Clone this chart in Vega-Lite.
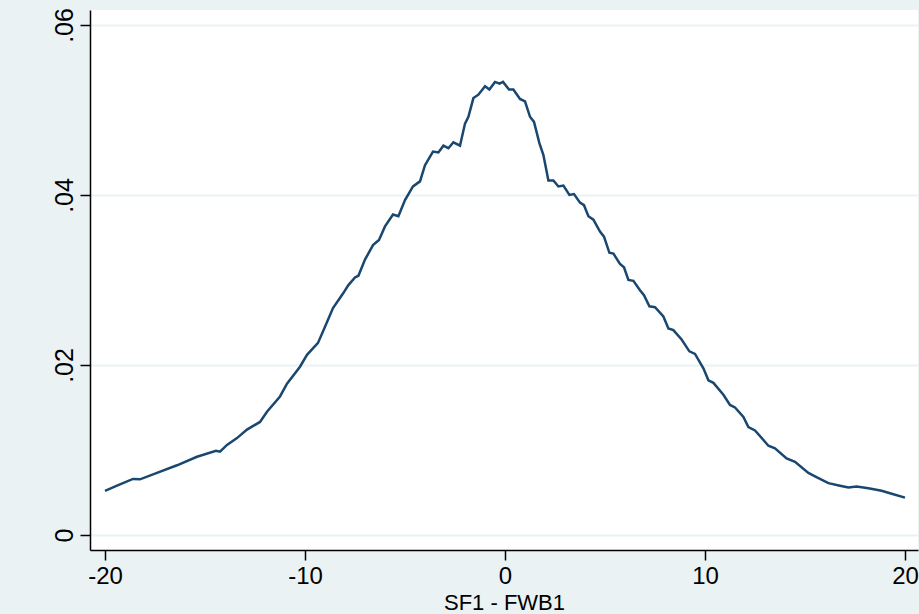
{
  "$schema": "https://vega.github.io/schema/vega-lite/v6.json",
  "width": 828,
  "height": 540,
  "autosize": {"type": "none"},
  "padding": {"left": 90, "top": 10, "right": 1, "bottom": 64},
  "background": "#EAF2F3",
  "config": {
    "view": {"fill": "#FFFFFF", "stroke": null},
    "axis": {"labelFont": "Liberation Sans", "titleFont": "Liberation Sans", "labelColor": "#000000", "titleColor": "#000000", "domainColor": "#000000", "tickColor": "#000000", "domainWidth": 1.5, "tickWidth": 1.5, "tickSize": 10}
  },
  "data": {"values": [
    {"x": -20.0, "y": 0.0052}, {"x": -19.4, "y": 0.0058}, {"x": -18.6, "y": 0.0066}, {"x": -18.25, "y": 0.00655},
    {"x": -17.4, "y": 0.0073}, {"x": -16.4, "y": 0.0082}, {"x": -15.4, "y": 0.0092}, {"x": -14.45, "y": 0.0099},
    {"x": -14.25, "y": 0.0098}, {"x": -13.9, "y": 0.0106}, {"x": -13.4, "y": 0.0114}, {"x": -12.9, "y": 0.0124},
    {"x": -12.25, "y": 0.0133}, {"x": -11.9, "y": 0.0145}, {"x": -11.25, "y": 0.0163}, {"x": -10.9, "y": 0.0178},
    {"x": -10.25, "y": 0.0198}, {"x": -9.9, "y": 0.0212}, {"x": -9.35, "y": 0.0226}, {"x": -9.0, "y": 0.0245},
    {"x": -8.6, "y": 0.0267}, {"x": -8.1, "y": 0.0284}, {"x": -7.83, "y": 0.0294}, {"x": -7.5, "y": 0.0303},
    {"x": -7.33, "y": 0.0305}, {"x": -7.0, "y": 0.0324}, {"x": -6.6, "y": 0.0341}, {"x": -6.3, "y": 0.0347},
    {"x": -6.0, "y": 0.0363}, {"x": -5.6, "y": 0.0377}, {"x": -5.33, "y": 0.0375}, {"x": -5.0, "y": 0.0394},
    {"x": -4.6, "y": 0.041}, {"x": -4.25, "y": 0.0416}, {"x": -4.0, "y": 0.0435}, {"x": -3.6, "y": 0.0451},
    {"x": -3.33, "y": 0.045}, {"x": -3.08, "y": 0.0458}, {"x": -2.83, "y": 0.0455}, {"x": -2.58, "y": 0.0462},
    {"x": -2.25, "y": 0.0458}, {"x": -2.0, "y": 0.0484}, {"x": -1.83, "y": 0.0492}, {"x": -1.58, "y": 0.0514},
    {"x": -1.33, "y": 0.0518}, {"x": -1.0, "y": 0.0528}, {"x": -0.78, "y": 0.0524}, {"x": -0.5, "y": 0.0533},
    {"x": -0.27, "y": 0.0531}, {"x": -0.1, "y": 0.0533}, {"x": 0.2, "y": 0.0524}, {"x": 0.42, "y": 0.0524},
    {"x": 0.75, "y": 0.0513}, {"x": 1.0, "y": 0.051}, {"x": 1.25, "y": 0.0492}, {"x": 1.45, "y": 0.0486},
    {"x": 1.72, "y": 0.0461}, {"x": 1.92, "y": 0.0447}, {"x": 2.17, "y": 0.0417}, {"x": 2.42, "y": 0.0417},
    {"x": 2.67, "y": 0.041}, {"x": 2.92, "y": 0.0411}, {"x": 3.22, "y": 0.04}, {"x": 3.45, "y": 0.0401},
    {"x": 3.75, "y": 0.0391}, {"x": 3.95, "y": 0.0388}, {"x": 4.17, "y": 0.0375}, {"x": 4.42, "y": 0.0371},
    {"x": 4.75, "y": 0.0357}, {"x": 4.95, "y": 0.0351}, {"x": 5.22, "y": 0.0332}, {"x": 5.42, "y": 0.0331},
    {"x": 5.75, "y": 0.0319}, {"x": 5.95, "y": 0.0315}, {"x": 6.17, "y": 0.03}, {"x": 6.42, "y": 0.0299},
    {"x": 6.75, "y": 0.0288}, {"x": 6.95, "y": 0.0282}, {"x": 7.22, "y": 0.0269}, {"x": 7.5, "y": 0.0268},
    {"x": 7.92, "y": 0.0257}, {"x": 8.17, "y": 0.0243}, {"x": 8.42, "y": 0.0241}, {"x": 8.83, "y": 0.023},
    {"x": 9.22, "y": 0.0216}, {"x": 9.5, "y": 0.0213}, {"x": 9.92, "y": 0.0196}, {"x": 10.17, "y": 0.0182},
    {"x": 10.42, "y": 0.0179}, {"x": 10.92, "y": 0.0165}, {"x": 11.25, "y": 0.0153}, {"x": 11.5, "y": 0.015},
    {"x": 11.92, "y": 0.0139}, {"x": 12.17, "y": 0.0127}, {"x": 12.5, "y": 0.0123}, {"x": 13.17, "y": 0.0105},
    {"x": 13.5, "y": 0.0102}, {"x": 14.08, "y": 0.009}, {"x": 14.5, "y": 0.0086}, {"x": 15.17, "y": 0.0073},
    {"x": 15.5, "y": 0.0069}, {"x": 16.17, "y": 0.0061}, {"x": 16.75, "y": 0.0058}, {"x": 17.17, "y": 0.0056},
    {"x": 17.58, "y": 0.0057}, {"x": 18.17, "y": 0.0055}, {"x": 18.83, "y": 0.0052}, {"x": 19.42, "y": 0.0048},
    {"x": 20.0, "y": 0.0044}
  ]},
  "mark": {"type": "line", "color": "#1A476F", "strokeWidth": 2.5, "clip": true},
  "encoding": {
    "x": {
      "field": "x", "type": "quantitative",
      "scale": {"domain": [-20.75, 20.65], "nice": false, "zero": false},
      "axis": {"values": [-20, -10, 0, 10, 20], "grid": false, "title": "SF1 - FWB1", "labelFontSize": 24, "titleFontSize": 22, "titleFontWeight": "normal", "labelPadding": 4, "titleBaseline": "alphabetic", "titleY": 59, "labelFlush": false,
        "labelExpr": "'' + datum.value"}
    },
    "y": {
      "field": "y", "type": "quantitative",
      "scale": {"domain": [-0.001765, 0.06176], "nice": false, "zero": false},
      "axis": {"values": [0, 0.02, 0.04, 0.06], "grid": true, "gridColor": "#EAF2F3", "gridWidth": 2, "title": null, "labelFontSize": 25, "labelAngle": 270, "labelAlign": "center", "labelBaseline": "alphabetic", "labelPadding": 8, "labelFlush": false,
        "labelExpr": "datum.value == 0 ? '0' : replace(format(datum.value, '.2f'), '0.', '.')"}
    }
  }
}
